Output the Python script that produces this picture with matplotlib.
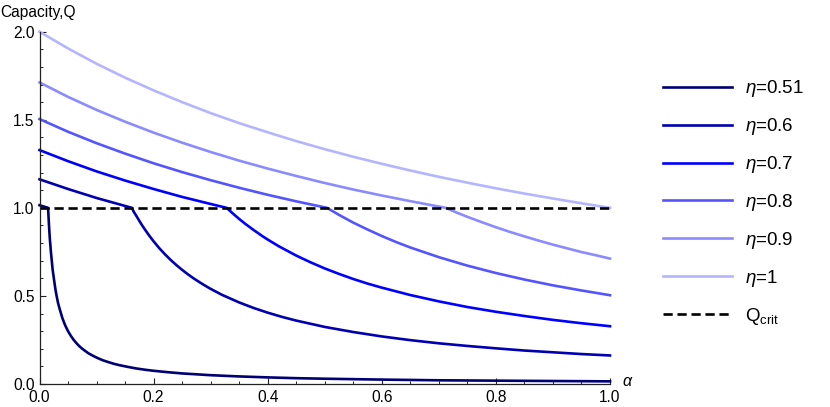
import matplotlib
matplotlib.use('Agg')
import matplotlib.pyplot as plt
from matplotlib.ticker import MultipleLocator

# ---------------- data ----------------
eta_labels = [r"$\mathit{\eta}$=0.51", r"$\mathit{\eta}$=0.6", r"$\mathit{\eta}$=0.7",
              r"$\mathit{\eta}$=0.8", r"$\mathit{\eta}$=0.9", r"$\mathit{\eta}$=1"]
colors = ["#000074", "#0000b0", "#0000ff", "#5555ff", "#8b8bff", "#b5b5ff"]

alpha_051 = [0.0, 0.015, 0.016, 0.017, 0.018, 0.019, 0.02, 0.0215, 0.023, 0.026, 0.028,
             0.03, 0.0325, 0.035, 0.04, 0.045, 0.05, 0.055, 0.06, 0.065, 0.07, 0.075, 0.08,
             0.085, 0.09, 0.095, 0.1, 0.11, 0.12, 0.13, 0.14, 0.155, 0.17, 0.185, 0.2,
             0.225, 0.25, 0.275, 0.3, 0.35, 0.4, 0.45, 0.5, 0.6, 0.7, 0.8, 0.9, 1.0]
q_051 = [1.015, 1.0, 0.94, 0.88, 0.83, 0.79, 0.75, 0.70, 0.65, 0.58, 0.536,
         0.50, 0.46, 0.43, 0.375, 0.333, 0.30, 0.273, 0.25, 0.231, 0.214, 0.20, 0.188,
         0.176, 0.167, 0.158, 0.15, 0.136, 0.125, 0.115, 0.107, 0.097, 0.088, 0.081, 0.075,
         0.067, 0.06, 0.055, 0.05, 0.043, 0.0375, 0.033, 0.03, 0.025, 0.021, 0.019, 0.017, 0.015]

alpha_06 = [0.0, 0.05, 0.1, 0.162, 0.165, 0.17, 0.175, 0.18, 0.185, 0.19, 0.195, 0.2, 0.21,
            0.22, 0.23, 0.24, 0.25, 0.26, 0.27, 0.28, 0.29, 0.3, 0.32, 0.35, 0.375, 0.4,
            0.425, 0.45, 0.5, 0.55, 0.6, 0.65, 0.7, 0.75, 0.8, 0.85, 0.9, 0.95, 1.0]
q_06 = [1.162, 1.107, 1.056, 1.0, 0.979, 0.953, 0.926, 0.90, 0.876, 0.853, 0.831, 0.81, 0.771,
        0.736, 0.704, 0.675, 0.648, 0.623, 0.60, 0.579, 0.559, 0.54, 0.506, 0.463, 0.432, 0.405,
        0.381, 0.36, 0.324, 0.295, 0.27, 0.249, 0.231, 0.216, 0.2025, 0.19, 0.18, 0.17, 0.162]

alpha_07 = [0.0, 0.05, 0.1, 0.15, 0.2, 0.25, 0.3, 0.328, 0.34, 0.35, 0.36, 0.375, 0.39, 0.4,
            0.42, 0.45, 0.475, 0.5, 0.525, 0.55, 0.575, 0.6, 0.65, 0.7, 0.75, 0.8, 0.85,
            0.9, 0.95, 1.0]
q_07 = [1.328, 1.265, 1.207, 1.155, 1.107, 1.062, 1.022, 1.0, 0.965, 0.937, 0.911, 0.875,
        0.841, 0.82, 0.781, 0.729, 0.691, 0.656, 0.625, 0.596, 0.57, 0.547, 0.505, 0.469,
        0.437, 0.41, 0.386, 0.364, 0.345, 0.328]

alpha_08 = [0.0, 0.05, 0.1, 0.15, 0.2, 0.25, 0.3, 0.35, 0.4, 0.45, 0.504, 0.525, 0.55, 0.575,
            0.6, 0.625, 0.65, 0.7, 0.75, 0.8, 0.85, 0.9, 0.95, 1.0]
q_08 = [1.504, 1.432, 1.367, 1.308, 1.253, 1.203, 1.157, 1.114, 1.074, 1.037, 1.0, 0.96, 0.916,
        0.877, 0.84, 0.806, 0.775, 0.72, 0.672, 0.63, 0.593, 0.56, 0.531, 0.504]

alpha_09 = [0.0, 0.05, 0.1, 0.15, 0.2, 0.25, 0.3, 0.35, 0.4, 0.45, 0.5, 0.55, 0.6, 0.65,
            0.712, 0.73, 0.75, 0.775, 0.8, 0.825, 0.85, 0.875, 0.9, 0.925, 0.95, 0.975, 1.0]
q_09 = [1.712, 1.630, 1.556, 1.489, 1.427, 1.370, 1.317, 1.268, 1.223, 1.181, 1.141, 1.104,
        1.070, 1.038, 1.0, 0.975, 0.949, 0.919, 0.89, 0.863, 0.838, 0.814, 0.791, 0.77, 0.749,
        0.731, 0.712]

alpha_1 = [0.0, 0.05, 0.1, 0.15, 0.2, 0.25, 0.3, 0.35, 0.4, 0.45, 0.5, 0.55, 0.6, 0.65, 0.7,
           0.75, 0.8, 0.85, 0.9, 0.95, 1.0]
q_1 = [2.0, 1.905, 1.818, 1.739, 1.667, 1.600, 1.538, 1.481, 1.429, 1.379, 1.333, 1.290,
       1.250, 1.212, 1.176, 1.143, 1.111, 1.081, 1.053, 1.026, 1.0]

qcrit_alpha = [0.0, 1.0]
qcrit_q = [1.0, 1.0]
qcrit_label = r"Q$_{\mathrm{crit}}$"

x_ticks = [0.0, 0.2, 0.4, 0.6, 0.8, 1.0]
y_ticks = [0.0, 0.5, 1.0, 1.5, 2.0]

# ---------------- style ----------------
plt.rcParams['font.family'] = ['Liberation Sans', 'DejaVu Sans']
plt.rcParams['mathtext.fontset'] = 'custom'
plt.rcParams['mathtext.rm'] = 'Liberation Sans'
plt.rcParams['mathtext.it'] = 'Liberation Sans:italic'
plt.rcParams['mathtext.bf'] = 'Liberation Sans:bold'

W, H = 830, 407
fig = plt.figure(figsize=(W / 100, H / 100), dpi=100)
x0, x1, y0, y1 = 39.5, 610.0, 384.0, 31.7
ax = fig.add_axes([x0 / W, 1 - y0 / H, (x1 - x0) / W, (y0 - y1) / H])

series = [(alpha_051, q_051), (alpha_06, q_06), (alpha_07, q_07),
          (alpha_08, q_08), (alpha_09, q_09), (alpha_1, q_1)]
for (a, q), c, lab in zip(series, colors, eta_labels):
    ax.plot(a, q, color=c, lw=1.9, label=lab, clip_on=False, solid_joinstyle='round')
ax.plot(qcrit_alpha, qcrit_q, color='black', lw=1.9, dashes=(3.5, 1.8),
        label=qcrit_label, clip_on=False)

ax.set_xlim(0, 1)
ax.set_ylim(0, 2)
for s in ('top', 'right'):
    ax.spines[s].set_visible(False)
for s in ('left', 'bottom'):
    ax.spines[s].set_color('#222222')
    ax.spines[s].set_linewidth(0.9)

ax.set_xticks(x_ticks)
ax.set_yticks(y_ticks)
ax.set_xticklabels([f"{v:.1f}" for v in x_ticks])
ax.set_yticklabels([f"{v:.1f}" for v in y_ticks])
ax.xaxis.set_minor_locator(MultipleLocator(0.05))
ax.yaxis.set_minor_locator(MultipleLocator(0.1))
ax.tick_params(which='major', direction='in', length=4, width=0.8, labelsize=11.2,
               color='#222222')
ax.tick_params(which='minor', direction='in', length=2.2, width=0.7, color='#222222')
ax.tick_params(axis='x', which='major', pad=4.0)
ax.tick_params(axis='y', which='major', pad=3.5)

fig.text(0.0, 1 - 12 / H, "Capacity,Q", fontsize=11.2, ha='left', va='center')
fig.text(628 / W, 1 - 381 / H, r"$\alpha$", fontsize=11.5, ha='center', va='center')

leg = fig.legend(loc='center left', bbox_to_anchor=(662.7 / W, 1 - 202.5 / H),
                 frameon=False, fontsize=13.5, handlelength=3.7, handletextpad=0.68,
                 labelspacing=0.9, borderpad=0, borderaxespad=0)

fig.savefig('out.png', dpi=100)
